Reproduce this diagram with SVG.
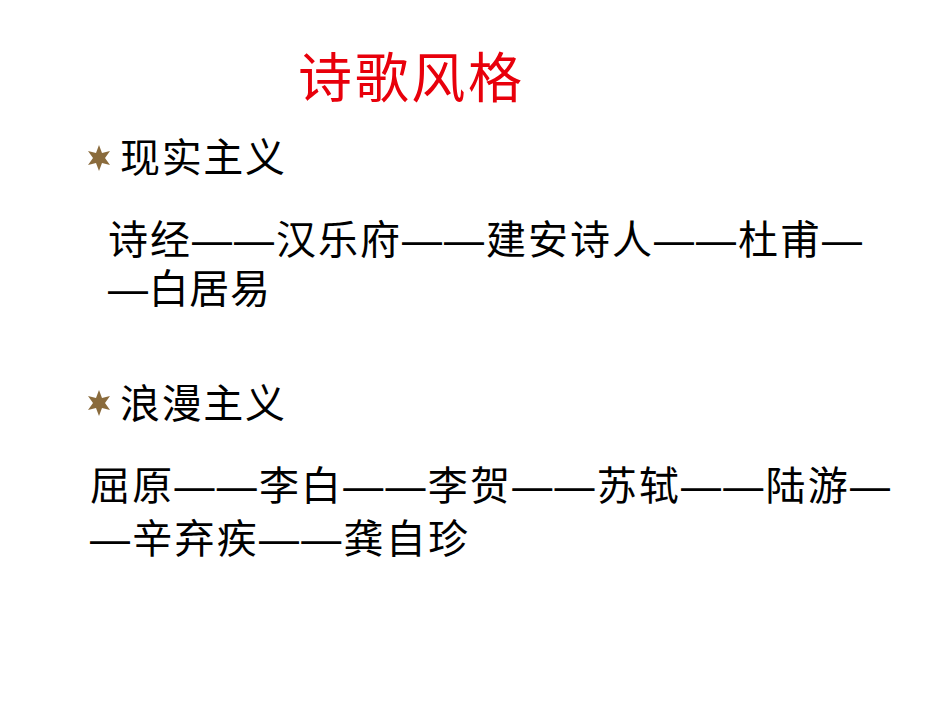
<svg xmlns="http://www.w3.org/2000/svg" width="950" height="713" viewBox="0 0 950 713">
<style>
text{font-family:"Liberation Sans","Noto Sans CJK SC",sans-serif;fill:#000;font-size:40px}
.t{fill:#e8000b;font-size:54px}
.s{fill:#8a6b3c}
</style>
<defs><polygon id="star" class="s" points="0,-13 3,-5 11,-7 6,0 11,7 3,5 0,13 -3,5 -11,7 -6,0 -11,-7 -3,-5"/></defs>
<rect width="950" height="713" fill="#fff"/>
<g id="title"><text class="t" x="298" y="98" textLength="224">诗歌风格</text></g>
<g id="realism">
<use href="#star" x="99" y="158"/>
<text x="120" y="172" textLength="165">现实主义</text>
<text x="108" y="254" textLength="754">诗经——汉乐府——建安诗人——杜甫—</text>
<text x="108" y="303" textLength="162">—白居易</text>
</g>
<g id="romanticism">
<use href="#star" x="99" y="403"/>
<text x="120" y="418" textLength="165">浪漫主义</text>
<text x="90" y="500" textLength="800">屈原——李白——李贺——苏轼——陆游—</text>
<text x="90" y="553" textLength="378">—辛弃疾——龚自珍</text>
</g>
</svg>
